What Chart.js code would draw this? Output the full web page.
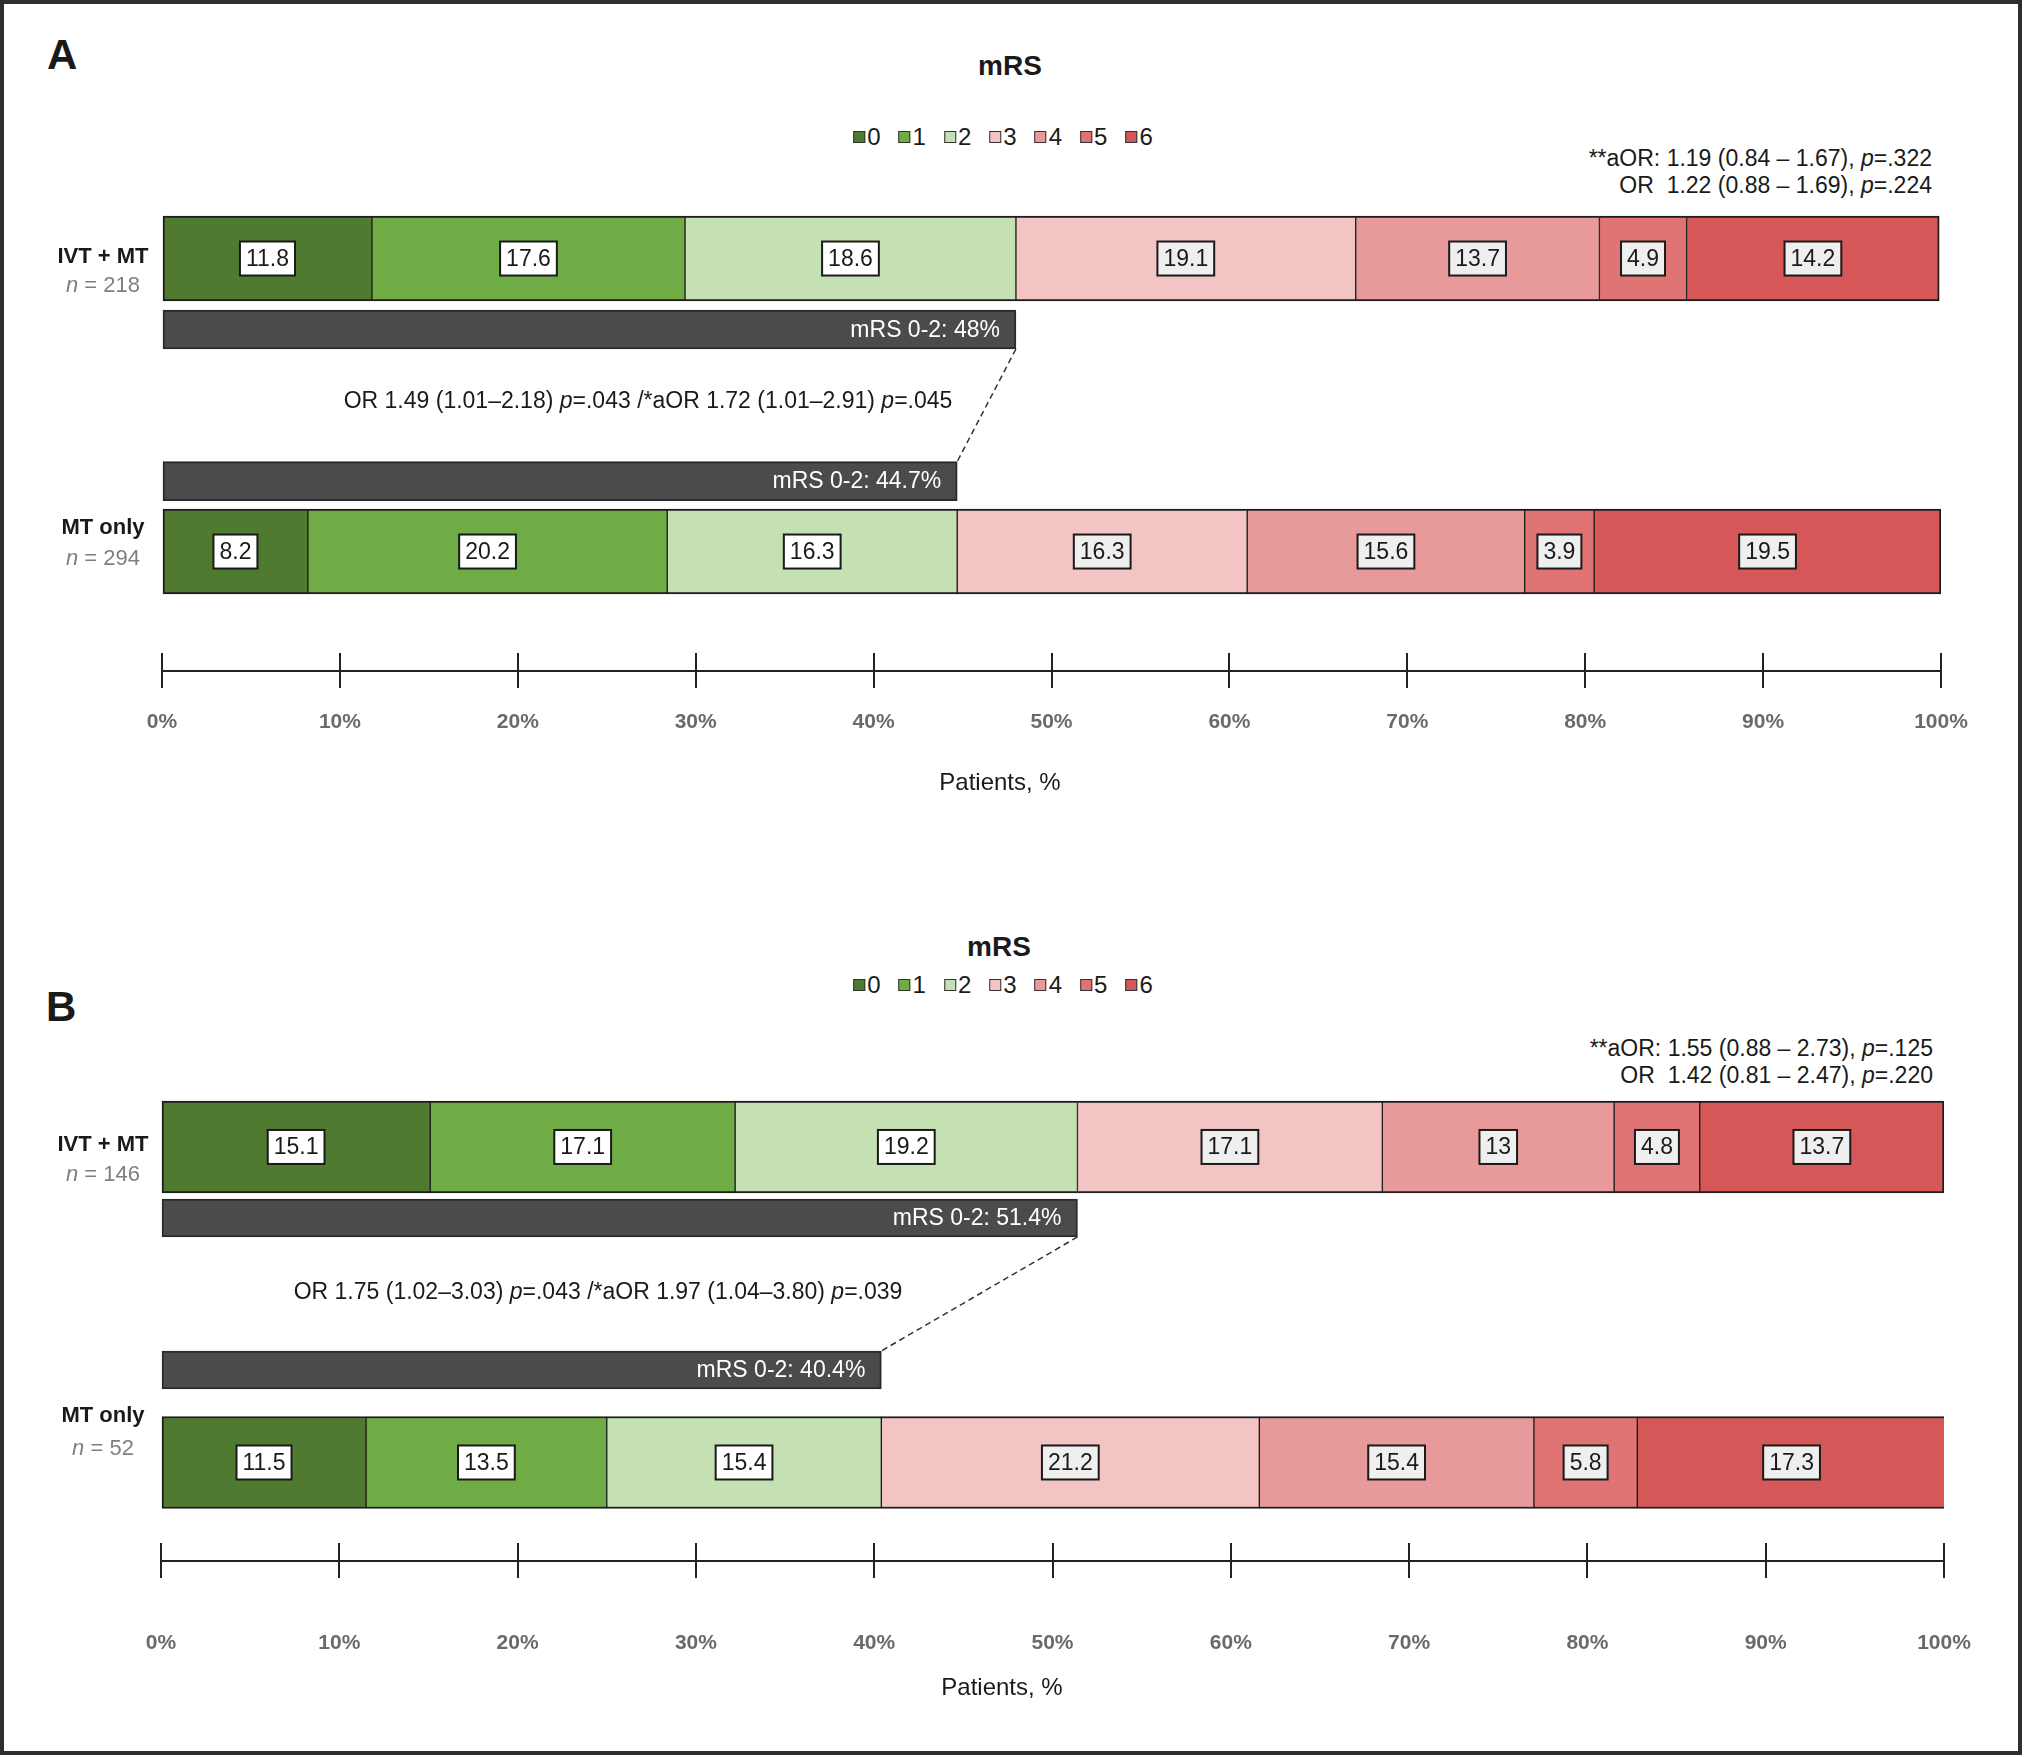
<!DOCTYPE html>
<html>
<head>
<meta charset="utf-8">
<title>mRS distribution</title>
<script src="https://cdn.jsdelivr.net/npm/chart.js@4.4.1/dist/chart.umd.min.js"></script>
<style>
  html, body { margin: 0; padding: 0; background: #fff; }
  body { width: 2026px; height: 1757px; position: relative; overflow: hidden;
         font-family: "Liberation Sans", Arial, sans-serif; color: #1a1a1a; }
  .frame { position: absolute; left: 0; top: 0; width: 2022px; height: 1755px;
           border: 4px solid #2e2e2e; box-sizing: border-box; pointer-events: none; z-index: 5; }
  .panel { position: absolute; left: 0; width: 2026px; }
  .letter { position: absolute; font-weight: bold; font-size: 42px; line-height: 42px; }
  .title { position: absolute; width: 300px; text-align: center; font-weight: bold;
           font-size: 28px; line-height: 30px; }
  .legend { position: absolute; display: flex; gap: 18px; font-size: 24px; line-height: 28px;
            transform: translateX(-50%); white-space: nowrap; }
  .legend .item { display: flex; align-items: center; }
  .legend .item i { display: inline-block; width: 10px; height: 10px; border: 1.5px solid #333;
                    margin-right: 2px; }
  .stats { position: absolute; text-align: right; font-size: 23px; white-space: pre; }
  .stats i { font-style: italic; }
</style>
</head>
<body>
<div class="frame"></div>

<div class="letter" style="left:47px; top:34px;">A</div>
<div class="title" style="left:860px; top:51px;">mRS</div>
<div class="legend" id="legendA" style="left:1003px; top:123px;"></div>
<div class="stats" id="statsA" style="right:94px; top:145px; line-height:27px;"></div>
<div class="panel" style="top:0; height:880px;"><canvas id="chartA"></canvas></div>

<div class="letter" style="left:46px; top:986px;">B</div>
<div class="title" style="left:849px; top:932px;">mRS</div>
<div class="legend" id="legendB" style="left:1003px; top:971px;"></div>
<div class="stats" id="statsB" style="right:93px; top:1035px; line-height:27px;"></div>
<div class="panel" style="top:880px; height:877px;"><canvas id="chartB"></canvas></div>

<script>
const FONT = '"Liberation Sans", Arial, sans-serif';

// ---- data ----
const mrsLevels = ['0', '1', '2', '3', '4', '5', '6'];
const groups = ['IVT + MT', 'MT only'];
const pctTicks = [0, 10, 20, 30, 40, 50, 60, 70, 80, 90, 100];

// panel A
const countA = [218, 294];
const ivtA = [11.8, 17.6, 18.6, 19.1, 13.7, 4.9, 14.2];
const mtA = [8.2, 20.2, 16.3, 16.3, 15.6, 3.9, 19.5];
const goodA = [48, 44.7];
const compareA = 'OR 1.49 (1.01–2.18) p=.043 /*aOR 1.72 (1.01–2.91) p=.045';
const shiftA = ['**aOR: 1.19 (0.84 – 1.67), p=.322', 'OR  1.22 (0.88 – 1.69), p=.224'];

// panel B
const countB = [146, 52];
const ivtB = [15.1, 17.1, 19.2, 17.1, 13, 4.8, 13.7];
const mtB = [11.5, 13.5, 15.4, 21.2, 15.4, 5.8, 17.3];
const goodB = [51.4, 40.4];
const compareB = 'OR 1.75 (1.02–3.03) p=.043 /*aOR 1.97 (1.04–3.80) p=.039';
const shiftB = ['**aOR: 1.55 (0.88 – 2.73), p=.125', 'OR  1.42 (0.81 – 2.47), p=.220'];

// ---- styles / layout ----
const mrsColors = ['#4f7a2f', '#6fac46', '#c5e0b3', '#f3c4c4', '#e89a9a', '#e07474', '#d65757'];

const layoutA = {
  canvas: 'chartA', left: 162, right: 1941, top: 200, bottom: 59, axisH: 150,
  slots: [0, 0.969, 1.959, 3.038, 4], yMin: -0.799, yMax: 5.631,
  barMain: 85, barGood: 39, tickPad: 22, titleX: 1000, titleY: 783,
  labelX: 103, labelDy: [[-2, 27], [-23.5, 7.5]], compareX: 648
};
const layoutB = {
  canvas: 'chartB', left: 161, right: 1944, top: 200, bottom: 46, axisH: 150,
  slots: [0, 0.900, 1.851, 2.827, 4], yMin: -0.849, yMax: 5.249,
  barMain: 92, barGood: 38, tickPad: 53, titleX: 1002, titleY: 808,
  labelX: 103, labelDy: [[-2, 28], [-46.5, -13.5]], compareX: 598
};

Chart.defaults.font.family = FONT;

// text with italic "p" / "n"
function italicParts(str, letter) {
  const out = [];
  str.split(letter + '=').forEach((s, i) => {
    if (i > 0) { out.push([letter, true]); out.push(['=' + s, false]); }
    else if (s) out.push([s, false]);
  });
  return out;
}

function drawRich(ctx, parts, x, y, align, size, color, weight) {
  const fonts = parts.map(p => `${p[1] ? 'italic ' : ''}${weight || 'normal'} ${size}px ${FONT}`);
  const widths = parts.map((p, i) => { ctx.font = fonts[i]; return ctx.measureText(p[0]).width; });
  const total = widths.reduce((a, b) => a + b, 0);
  let cx = align === 'center' ? x - total / 2 : (align === 'right' ? x - total : x);
  ctx.textAlign = 'left';
  ctx.textBaseline = 'middle';
  ctx.fillStyle = color;
  parts.forEach((p, i) => { ctx.font = fonts[i]; ctx.fillText(p[0], cx, y); cx += widths[i]; });
}

function drawValueBox(ctx, text, cx, cy, fill) {
  ctx.font = `23px ${FONT}`;
  const w = ctx.measureText(text).width + 12;
  const h = 34;
  ctx.fillStyle = fill;
  ctx.fillRect(cx - w / 2, cy - h / 2, w, h);
  ctx.strokeStyle = '#1a1a1a';
  ctx.lineWidth = 2;
  ctx.strokeRect(cx - w / 2, cy - h / 2, w, h);
  ctx.fillStyle = '#1a1a1a';
  ctx.textAlign = 'center';
  ctx.textBaseline = 'middle';
  ctx.fillText(text, cx, cy + 1);
}

const panelText = {
  id: 'panelText',
  afterDatasetsDraw(chart, args, opts) {
    const ctx = chart.ctx;
    const xs = chart.scales.x, ys = chart.scales.y;
    const L = opts.layout;
    ctx.save();

    // upper half of axis ticks
    ctx.strokeStyle = '#222';
    ctx.lineWidth = 2;
    xs.ticks.forEach((t, i) => {
      const px = Math.round(xs.getPixelForTick(i));
      ctx.beginPath();
      ctx.moveTo(px, xs.top - 18);
      ctx.lineTo(px, xs.top);
      ctx.stroke();
    });

    // axis title
    ctx.font = `24px ${FONT}`;
    ctx.fillStyle = '#1a1a1a';
    ctx.textAlign = 'center';
    ctx.textBaseline = 'middle';
    ctx.fillText('Patients, %', L.titleX, L.titleY);

    // value boxes in the mRS segments
    mrsLevels.forEach((lvl, k) => {
      const meta = chart.getDatasetMeta(k);
      meta.data.forEach((el, i) => {
        const v = chart.data.datasets[k].data[i].x;
        drawValueBox(ctx, String(v), (el.x + el.base) / 2, el.y, k < 3 ? '#ffffff' : '#efefef');
      });
    });

    // mRS 0-2 bars: labels and connector
    const good = chart.getDatasetMeta(mrsLevels.length).data;
    const goodVals = chart.data.datasets[mrsLevels.length].data;
    good.forEach((el, i) => {
      ctx.font = `23px ${FONT}`;
      ctx.fillStyle = '#ffffff';
      ctx.textAlign = 'right';
      ctx.textBaseline = 'middle';
      ctx.fillText('mRS 0-2: ' + goodVals[i].x + '%', el.x - 16, el.y + 1);
    });
    ctx.strokeStyle = '#333';
    ctx.lineWidth = 1.5;
    ctx.setLineDash([6, 4]);
    ctx.beginPath();
    ctx.moveTo(good[0].x, good[0].y + good[0].height / 2);
    ctx.lineTo(good[1].x, good[1].y - good[1].height / 2);
    ctx.stroke();
    ctx.setLineDash([]);

    // comparison text
    drawRich(ctx, italicParts(opts.compare, 'p'), L.compareX, ys.getPixelForValue(L.slots[2]),
      'center', 23, '#1a1a1a');

    // row labels
    [0, 4].forEach((slot, g) => {
      const cy = ys.getPixelForValue(L.slots[slot]);
      drawRich(ctx, [[groups[g], false]], L.labelX, cy + L.labelDy[g][0], 'center', 22, '#1a1a1a', 'bold');
      drawRich(ctx, [['n', true], [' = ' + opts.counts[g], false]], L.labelX, cy + L.labelDy[g][1],
        'center', 22, '#7f7f7f');
    });
    ctx.restore();
  }
};

function buildPanel(L, counts, ivt, mt, good, compare) {
  const datasets = mrsLevels.map((lvl, k) => ({
    label: lvl,
    data: [{ y: L.slots[0], x: ivt[k] }, { y: L.slots[4], x: mt[k] }],
    backgroundColor: mrsColors[k],
    borderColor: '#1d1d1d',
    borderWidth: { top: 2, bottom: 2, left: k === 0 ? 2 : 1, right: k === mrsLevels.length - 1 ? 2 : 1 },
    borderSkipped: false,
    barThickness: L.barMain
  }));
  datasets.push({
    label: 'mRS 0-2',
    data: [{ y: L.slots[1], x: good[0] }, { y: L.slots[3], x: good[1] }],
    backgroundColor: '#4b4b4b',
    borderColor: '#2a2a2a',
    borderWidth: 2,
    borderSkipped: false,
    barThickness: L.barGood
  });

  const ctx = document.getElementById(L.canvas).getContext('2d');
  return new Chart(ctx, {
    type: 'bar',
    data: { datasets },
    plugins: [panelText],
    options: {
      indexAxis: 'y',
      responsive: true,
      maintainAspectRatio: false,
      animation: false,
      layout: { padding: { left: L.left, right: 2026 - L.right, top: L.top, bottom: L.bottom } },
      plugins: {
        legend: { display: false },
        tooltip: { enabled: false },
        panelText: { layout: L, counts, compare }
      },
      scales: {
        x: {
          type: 'linear',
          min: 0,
          max: 100,
          stacked: true,
          afterBuildTicks: s => { s.ticks = pctTicks.map(v => ({ value: v })); },
          afterFit: s => { s.height = L.axisH; },
          ticks: {
            callback: v => v + '%',
            font: { size: 21, weight: 'bold' },
            color: '#6a6a6a',
            padding: L.tickPad,
            maxRotation: 0,
            autoSkip: false
          },
          grid: { drawOnChartArea: false, drawTicks: true, tickLength: 17, color: '#222', lineWidth: 2 },
          border: { display: true, color: '#222', width: 2 }
        },
        y: {
          type: 'linear',
          reverse: true,
          min: L.yMin,
          max: L.yMax,
          stacked: true,
          offset: false,
          display: false,
          grid: { offset: false }
        }
      }
    }
  });
}

function fillHtml(legendId, statsId, lines) {
  document.getElementById(legendId).innerHTML = mrsLevels.map((l, k) =>
    `<span class="item"><i style="background:${mrsColors[k]}"></i>${l}</span>`).join('');
  document.getElementById(statsId).innerHTML = lines.map(s => s.replace('p=', '<i>p</i>=')).join('\n');
}

window.addEventListener('DOMContentLoaded', () => {
  fillHtml('legendA', 'statsA', shiftA);
  fillHtml('legendB', 'statsB', shiftB);
  window.chartA = buildPanel(layoutA, countA, ivtA, mtA, goodA, compareA);
  window.chartB = buildPanel(layoutB, countB, ivtB, mtB, goodB, compareB);
});
</script>
</body>
</html>
